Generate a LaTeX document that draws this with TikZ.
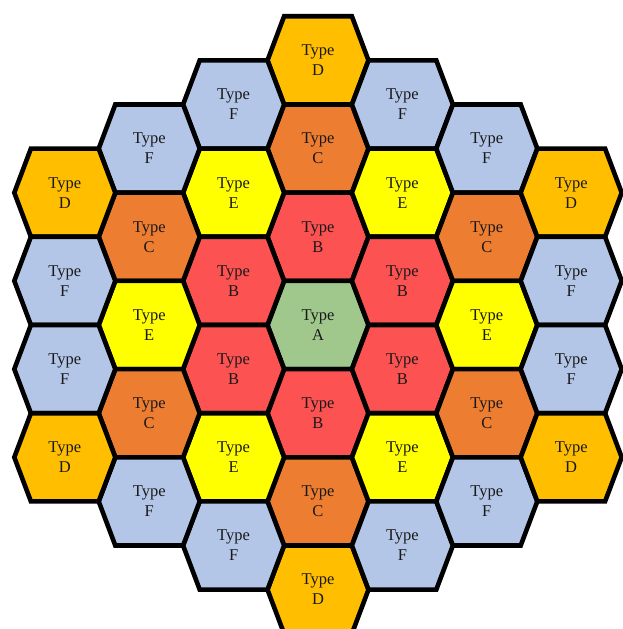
\documentclass[tikz,border=0pt]{standalone}
\usepackage{fontspec}
\setmainfont{Liberation Serif}

\definecolor{colA}{RGB}{160,200,140}
\definecolor{colB}{RGB}{252,82,82}
\definecolor{colC}{RGB}{237,125,49}
\definecolor{colD}{RGB}{255,190,0}
\definecolor{colE}{RGB}{255,255,0}
\definecolor{colF}{RGB}{180,198,231}

\begin{document}
\begin{tikzpicture}[
    x=1pt, y=1pt,
    hexcell/.style={draw=black, line width=4.6pt, line join=miter},
    celltext/.style={align=center, inner sep=0pt, text=black!90, font=\fontsize{16.5}{20}\selectfont}
]

% page frame
\useasboundingbox (-318,-304) rectangle (305,325);

% ============= CELLS =============
% column / half-row / type
\foreach \q/\m/\t in {
    0/6/D, 0/4/C, 0/2/B, 0/0/A, 0/-2/B, 0/-4/C, 0/-6/D,
    -1/5/F, -1/3/E, -1/1/B, -1/-1/B, -1/-3/E, -1/-5/F,
    1/5/F, 1/3/E, 1/1/B, 1/-1/B, 1/-3/E, 1/-5/F,
    -2/4/F, -2/2/C, -2/0/E, -2/-2/C, -2/-4/F,
    2/4/F, 2/2/C, 2/0/E, 2/-2/C, 2/-4/F,
    -3/3/D, -3/1/F, -3/-1/F, -3/-3/D,
    3/3/D, 3/1/F, 3/-1/F, 3/-3/D} {
    \filldraw[hexcell, fill=col\t] ({84.4*\q+50.5},{44.1*\m})
        -- ++(-16.6,44.1) -- ++(-67.8,0) -- ++(-16.6,-44.1)
        -- ++(16.6,-44.1) -- ++(67.8,0) -- cycle;
    \node[celltext] (cell\q\m) at ({84.4*\q},{44.1*\m}) {Type\\\t};
}

\end{tikzpicture}
\end{document}
